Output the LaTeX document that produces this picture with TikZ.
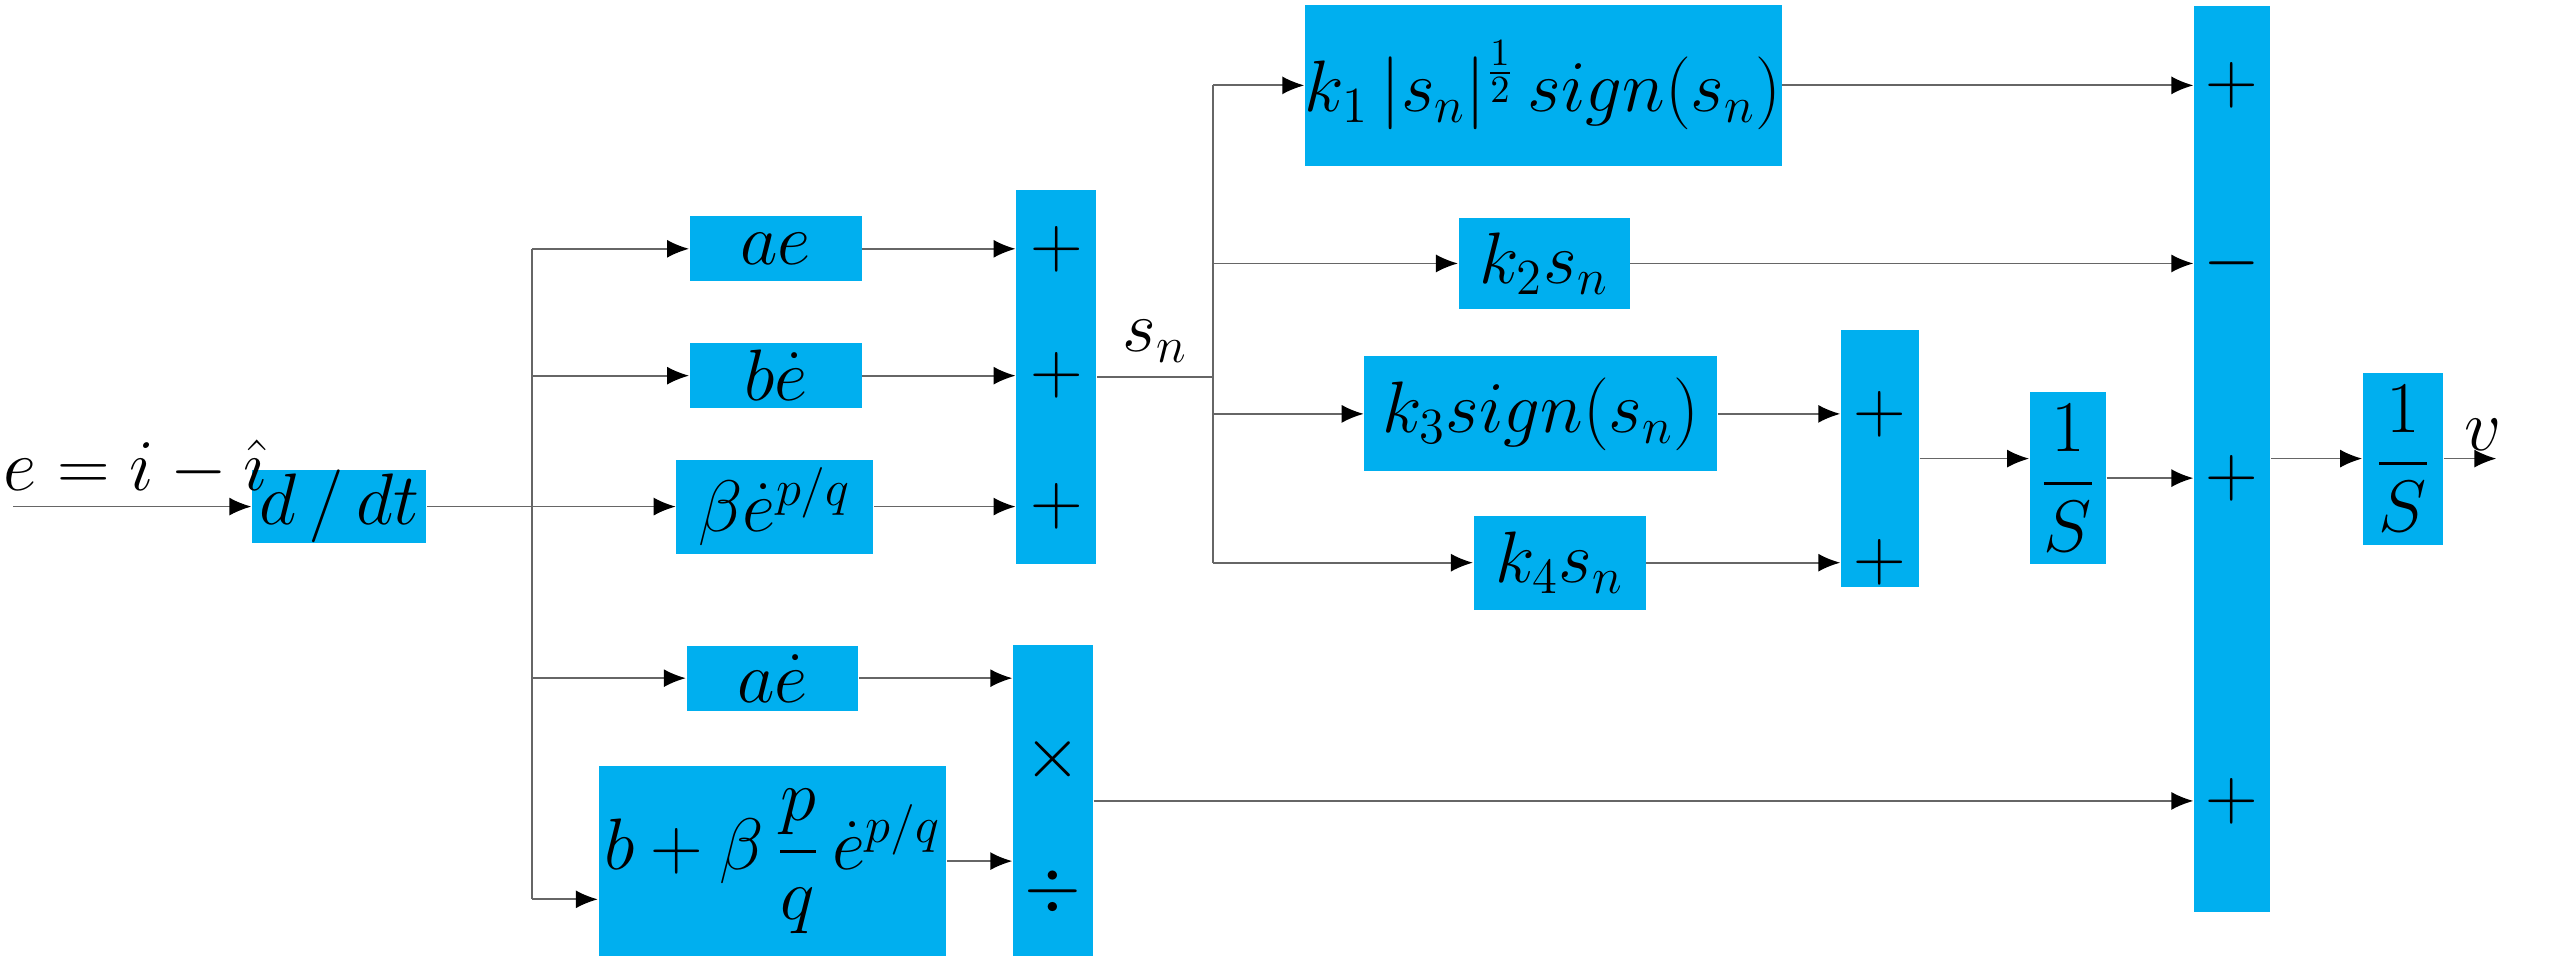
\documentclass[tikz,border=0pt]{standalone}
\usepackage{amsmath}
\usepackage{tikz}
\usetikzlibrary{arrows.meta}
\definecolor{blockblue}{RGB}{0,175,239}
\tikzset{
  blk/.style={fill=blockblue, inner sep=0pt, font=\fontsize{22}{26}\selectfont},
  sgn/.style={inner sep=0pt, font=\fontsize{22}{26}\selectfont},
  ln/.style={draw=gray!80!black, line width=0.5pt},
  arr/.style={ln, -{Latex[length=2.2mm,width=1.8mm,color=black]}}
}

\begin{document}
\begin{tikzpicture}[x=0.01626cm, y=-0.01626cm]
\useasboundingbox (0,0) rectangle (1568,591);

%Blocks of the first stage
\node[blk, minimum width=1.74cm, minimum height=0.60cm] (ddt) at (208.5,311.5) {$d\,/\,dt$};
\node[blk, minimum width=1.72cm, minimum height=0.65cm] (ae) at (477,153) {$ae$};
\node[blk, minimum width=1.72cm, minimum height=0.65cm] (bed) at (477,231) {$b\dot{e}$};
\node[blk, minimum width=1.97cm, minimum height=0.94cm] (bep) at (476.5,311.5) {$\beta\dot{e}^{p/q}$};
\node[blk, minimum width=1.72cm, minimum height=0.65cm] (aed) at (475,417) {$a\dot{e}$};
\node[blk, minimum width=3.48cm, minimum height=1.90cm] (bbig) at (475,529.5) {$b+\beta\,\dfrac{p}{q}\,\dot{e}^{p/q}$};
\node[blk, minimum width=0.80cm, minimum height=3.74cm] (sum1) at (649.5,232) {};
\node[blk, minimum width=0.80cm, minimum height=3.11cm] (muldiv) at (647.5,492.5) {};

%Blocks of the second stage
\node[blk, minimum width=4.46cm, minimum height=1.61cm] (k1) at (949,52.5) {$k_1\,|s_n|^{\frac{1}{2}}\,sign(s_n)$};
\node[blk, minimum width=1.71cm, minimum height=0.91cm] (k2) at (949.5,162) {$k_2s_n$};
\node[blk, minimum width=3.53cm, minimum height=1.15cm] (k3) at (947.5,254.5) {$k_3sign(s_n)$};
\node[blk, minimum width=1.72cm, minimum height=0.94cm] (k4) at (959,346) {$k_4s_n$};
\node[blk, minimum width=0.78cm, minimum height=2.57cm] (sum2) at (1156,282) {};
\node[blk, minimum width=0.76cm, minimum height=1.72cm] (inta) at (1271.5,294) {$\dfrac{1}{S}$};
\node[blk, minimum width=0.76cm, minimum height=9.06cm] (bigsum) at (1372.5,282.5) {};
\node[blk, minimum width=0.80cm, minimum height=1.72cm] (intb) at (1477.5,282) {$\dfrac{1}{S}$};

%Signs
\node[sgn] at (sum1.center |- ae.east) {$+$};
\node[sgn] at (sum1.center |- bed.east) {$+$};
\node[sgn] at (sum1.center |- bep.east) {$+$};
\node[sgn] at (647.5,467) {$\times$};
\node[sgn] at (647.5,548) {$\div$};
\node[sgn] at (sum2.center |- k3.east) {$+$};
\node[sgn] at (sum2.center |- k4.east) {$+$};
\node[sgn] at (bigsum.center |- k1.east) {$+$};
\node[sgn] at (bigsum.center |- k2.east) {$-$};
\node[sgn] at (bigsum.center |- inta.east) {$+$};
\node[sgn] at (bigsum.center |- muldiv.east) {$+$};

%Connectors
\coordinate (in) at (8,311.5);
\coordinate (br) at (327,311.5);
\coordinate (bin) at (327,553);
\coordinate (sb) at (746,232);
\coordinate (out) at (1535,282);
\node[sgn, anchor=south west, font=\fontsize{20}{24}\selectfont] (elabel) at (2,306) {$e=i-\hat{\imath}$};
\draw[arr] (in) -- (ddt.west);
\draw[ln] (ddt.east) -- (br);
\draw[ln] (br |- ae.west) -- (bin);
\draw[arr] (br |- ae.west) -- (ae.west);
\draw[arr] (br |- bed.west) -- (bed.west);
\draw[arr] (br) -- (bep.west);
\draw[arr] (br |- aed.west) -- (aed.west);
\draw[arr] (bin) -- (bin -| bbig.west);
\draw[arr] (ae.east) -- (ae.east -| sum1.west);
\draw[arr] (bed.east) -- (bed.east -| sum1.west);
\draw[arr] (bep.east) -- (bep.east -| sum1.west);
\draw[arr] (aed.east) -- (aed.east -| muldiv.west);
\draw[arr] (bbig.east) -- (bbig.east -| muldiv.west);
\draw[ln] (sum1.east) -- node[sgn, above, yshift=4pt] {$s_n$} (sb);
\draw[ln] (sb |- k1.west) -- (sb |- k4.west);
\draw[arr] (sb |- k1.west) -- (k1.west);
\draw[arr] (sb |- k2.west) -- (k2.west);
\draw[arr] (sb |- k3.west) -- (k3.west);
\draw[arr] (sb |- k4.west) -- (k4.west);
\draw[arr] (k1.east) -- (k1.east -| bigsum.west);
\draw[arr] (k2.east) -- (k2.east -| bigsum.west);
\draw[arr] (k3.east) -- (k3.east -| sum2.west);
\draw[arr] (k4.east) -- (k4.east -| sum2.west);
\draw[arr] (sum2.east) -- (sum2.east -| inta.west);
\draw[arr] (inta.east) -- (inta.east -| bigsum.west);
\draw[arr] (muldiv.east) -- (muldiv.east -| bigsum.west);
\draw[arr] (bigsum.east |- intb.west) -- (intb.west);
\draw[arr] (intb.east) -- node[sgn, above, pos=0.75, yshift=2pt] {$v$} (out);

\end{tikzpicture}
\end{document}
